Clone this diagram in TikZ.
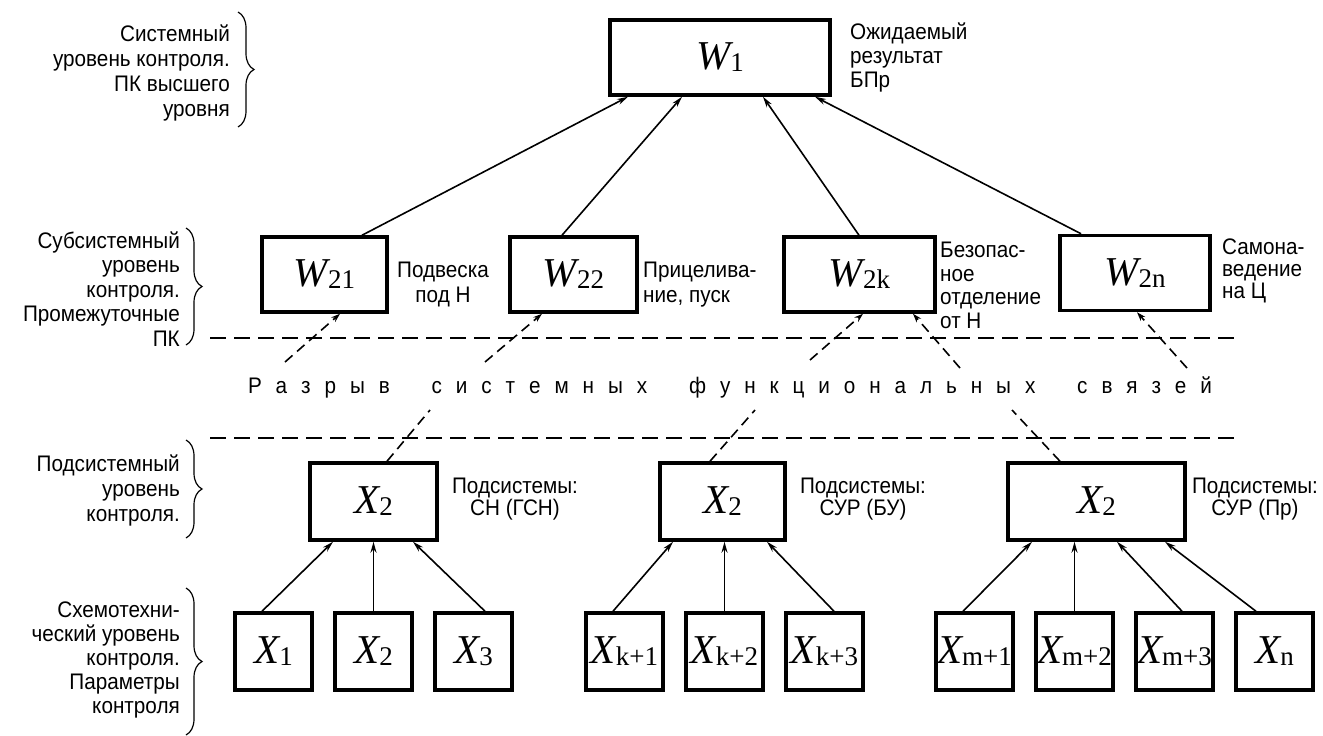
\documentclass[tikz,border=0pt]{standalone}
\usepackage{fontspec}
\setmainfont{Liberation Sans}[FakeStretch=0.92]
\newfontfamily\tms{Liberation Serif}
\usetikzlibrary{arrows.meta,calc,decorations.pathreplacing}
\newcommand{\ml}[2]{{\tms\fontsize{41}{41}\selectfont\itshape #1}{\tms\fontsize{27}{27}\selectfont\raisebox{-2pt}{#2}}}
\newcommand{\lgap}{\hfill}
\newcommand{\wgap}{\hfill\hfill\hfill}
\begin{document}
\begin{tikzpicture}[x=1pt,y=-1pt,
  box/.style={draw, line width=3.5pt, inner sep=0pt, minimum height=75pt},
  sq/.style={draw, line width=3.5pt, inner sep=0pt, minimum width=77pt, minimum height=77pt},
  txt/.style={inner sep=0pt, font=\fontsize{22.5}{24}\selectfont},
  arr/.style={line width=1.6pt, -{Stealth[length=11pt,width=6pt]}},
  darr/.style={line width=1.6pt, dash pattern=on 10pt off 6pt, -{Stealth[length=9pt,width=6pt]}},
  dseg/.style={line width=1.6pt, dash pattern=on 10pt off 6pt},
  hline/.style={line width=2pt, dash pattern=on 16pt off 8pt},
  br/.style={decorate, decoration={brace, amplitude=16pt}, line width=1.2pt}]
\useasboundingbox (0,0) rectangle (1323,736);

% main boxes
\node[box, minimum width=220pt] (W1) at (720,57.5) {\ml{W}{1}};
\node[box, minimum width=125pt] (W21) at (324.5,274.5) {\ml{W}{21}};
\node[box, minimum width=127pt] (W22) at (573.5,274.5) {\ml{W}{22}};
\node[box, minimum width=151pt] (W2k) at (859.5,274.5) {\ml{W}{2k}};
\node[box, minimum width=150pt] (W2n) at (1135,273) {\ml{W}{2n}};
\node[box, minimum width=127pt, minimum height=77pt] (S1) at (373.5,501.5) {\ml{X}{2}};
\node[box, minimum width=125pt, minimum height=77pt] (S2) at (722.5,501.5) {\ml{X}{2}};
\node[box, minimum width=177pt, minimum height=77pt] (S3) at (1096.5,501.5) {\ml{X}{2}};

\node[sq] (X1) at (273.5,651.5) {\ml{X}{1}};
\node[sq] (X2) at (373.5,651.5) {\ml{X}{2}};
\node[sq] (X3) at (473.5,651.5) {\ml{X}{3}};
\node[sq] (Xk1) at (624.5,651.5) {\ml{X}{k+1}};
\node[sq] (Xk2) at (724.5,651.5) {\ml{X}{k+2}};
\node[sq] (Xk3) at (824.5,651.5) {\ml{X}{k+3}};
\node[sq] (Xm1) at (974.5,651.5) {\ml{X}{m+1}};
\node[sq] (Xm2) at (1074.5,651.5) {\ml{X}{m+2}};
\node[sq] (Xm3) at (1174.5,651.5) {\ml{X}{m+3}};
\node[sq] (Xn) at (1274.5,651.5) {\ml{X}{n}};

% level labels
\node[txt, align=right, anchor=east, font=\fontsize{22.5}{25}\selectfont] (L1) at (230,72.5) {Системный\\уровень контроля.\\ПК высшего\\уровня};
\node[txt, align=right, anchor=east, font=\fontsize{22.5}{24.5}\selectfont] (L2) at (180,289) {Субсистемный\\уровень\\контроля.\\Промежуточные\\ПК};
\node[txt, align=right, anchor=east, font=\fontsize{22.5}{25}\selectfont] (L3) at (180,490) {Подсистемный\\уровень\\контроля.};
\node[txt, align=right, anchor=east] (L4) at (180,660) {Схемотехни-\\ческий уровень\\контроля.\\Параметры\\контроля};
\draw[br] (238,12) -- (238,127);
\draw[br] (186,228) -- (186,345);
\draw[br] (186,440) -- (186,538);
\draw[br] (186,588) -- (186,735);

% side texts
\node[txt, align=left, anchor=west] (T1) at (850,57) {Ожидаемый\\результат\\БПр};
\node[txt, align=center, font=\fontsize{22.5}{25}\selectfont] (T21) at (443,284.5) {Подвеска\\под Н};
\node[txt, align=left, anchor=west, font=\fontsize{22.5}{25}\selectfont] (T22) at (643,284.5) {Прицелива-\\ние, пуск};
\node[txt, align=left, anchor=west, font=\fontsize{22.5}{23.5}\selectfont] (T2k) at (940,285.5) {Безопас-\\ное\\отделение\\от Н};
\node[txt, align=left, anchor=west, font=\fontsize{22.5}{22}\selectfont] (T2n) at (1222,271) {Самона-\\ведение\\на Ц};
\node[txt, align=center, font=\fontsize{22.5}{22}\selectfont] (TS1) at (515,499) {Подсистемы:\\СН (ГСН)};
\node[txt, align=center, font=\fontsize{22.5}{22}\selectfont] (TS2) at (863,499) {Подсистемы:\\СУР (БУ)};
\node[txt, align=center, font=\fontsize{22.5}{22}\selectfont] (TS3) at (1255,499) {Подсистемы:\\СУР (Пр)};

% break band
\coordinate (H1a) at (210,338); \coordinate (H1b) at (1235,338);
\coordinate (H2a) at (210,438); \coordinate (H2b) at (1235,438);
\draw[hline] (H1a) -- (H1b);
\draw[hline] (H2a) -- (H2b);
\node[txt] (GAP) at (730,387) {\makebox[964pt]{Р\lgap а\lgap з\lgap р\lgap ы\lgap в\wgap с\lgap и\lgap с\lgap т\lgap е\lgap м\lgap н\lgap ы\lgap х\wgap ф\lgap у\lgap н\lgap к\lgap ц\lgap и\lgap о\lgap н\lgap а\lgap л\lgap ь\lgap н\lgap ы\lgap х\wgap с\lgap в\lgap я\lgap з\lgap е\lgap й}};

% arrows to W1
\draw[arr] ($(W21.north)+(37.5,0)$) -- ($(W1.south)+(-92,0)$);
\draw[arr] ($(W22.north)+(-11.5,0)$) -- ($(W1.south)+(-38,0)$);
\draw[arr] ($(W2k.north)+(-0.5,0)$) -- ($(W1.south)+(43,0)$);
\draw[arr] ($(W2n.north)+(-54,0)$) -- ($(W1.south)+(95,0)$);

% broken dashed links, upper part
\coordinate (A1) at (285,362);
\coordinate (A2) at (485,362);
\coordinate (A3) at (810,360);
\coordinate (A4) at (960,368);
\coordinate (A5) at (1187,368);
\draw[darr] (A1) -- ($(W21.south)+(15.5,0)$);
\draw[darr] (A2) -- ($(W22.south)+(-31.5,0)$);
\draw[darr] (A3) -- ($(W2k.south)+(3.5,0)$);
\draw[darr] (A4) -- ($(W2k.south)+(53.5,0)$);
\draw[darr] (A5) -- ($(W2n.south)+(2,0)$);

% broken dashed links, lower part
\coordinate (B1) at (430,410);
\coordinate (B2) at (755,410);
\coordinate (B3) at (1012,410);
\draw[dseg] ($(S1.north)+(13.5,0)$) -- (B1);
\draw[dseg] ($(S2.north)+(-12.5,0)$) -- (B2);
\draw[dseg] ($(S3.north)+(-36.5,0)$) -- (B3);

% arrows bottom
\draw[arr] ($(X1.north)+(-11.5,0)$) -- ($(S1.south)+(-40.5,0)$);
\draw[arr] (X2.north) -- (S1.south);
\draw[arr] ($(X3.north)+(11.5,0)$) -- ($(S1.south)+(39.5,0)$);
\draw[arr] ($(Xk1.north)+(-11.5,0)$) -- ($(S2.south)+(-49.5,0)$);
\draw[arr] (Xk2.north) -- (Xk2.north |- S2.south);
\draw[arr] ($(Xk3.north)+(9.5,0)$) -- ($(S2.south)+(44.5,0)$);
\draw[arr] ($(Xm1.north)+(-11.5,0)$) -- ($(S3.south)+(-64.5,0)$);
\draw[arr] (Xm2.north) -- (Xm2.north |- S3.south);
\draw[arr] ($(Xm3.north)+(7.5,0)$) -- ($(S3.south)+(20.5,0)$);
\draw[arr] ($(Xn.north)+(-18.5,0)$) -- ($(S3.south)+(68.5,0)$);
\end{tikzpicture}
\end{document}
